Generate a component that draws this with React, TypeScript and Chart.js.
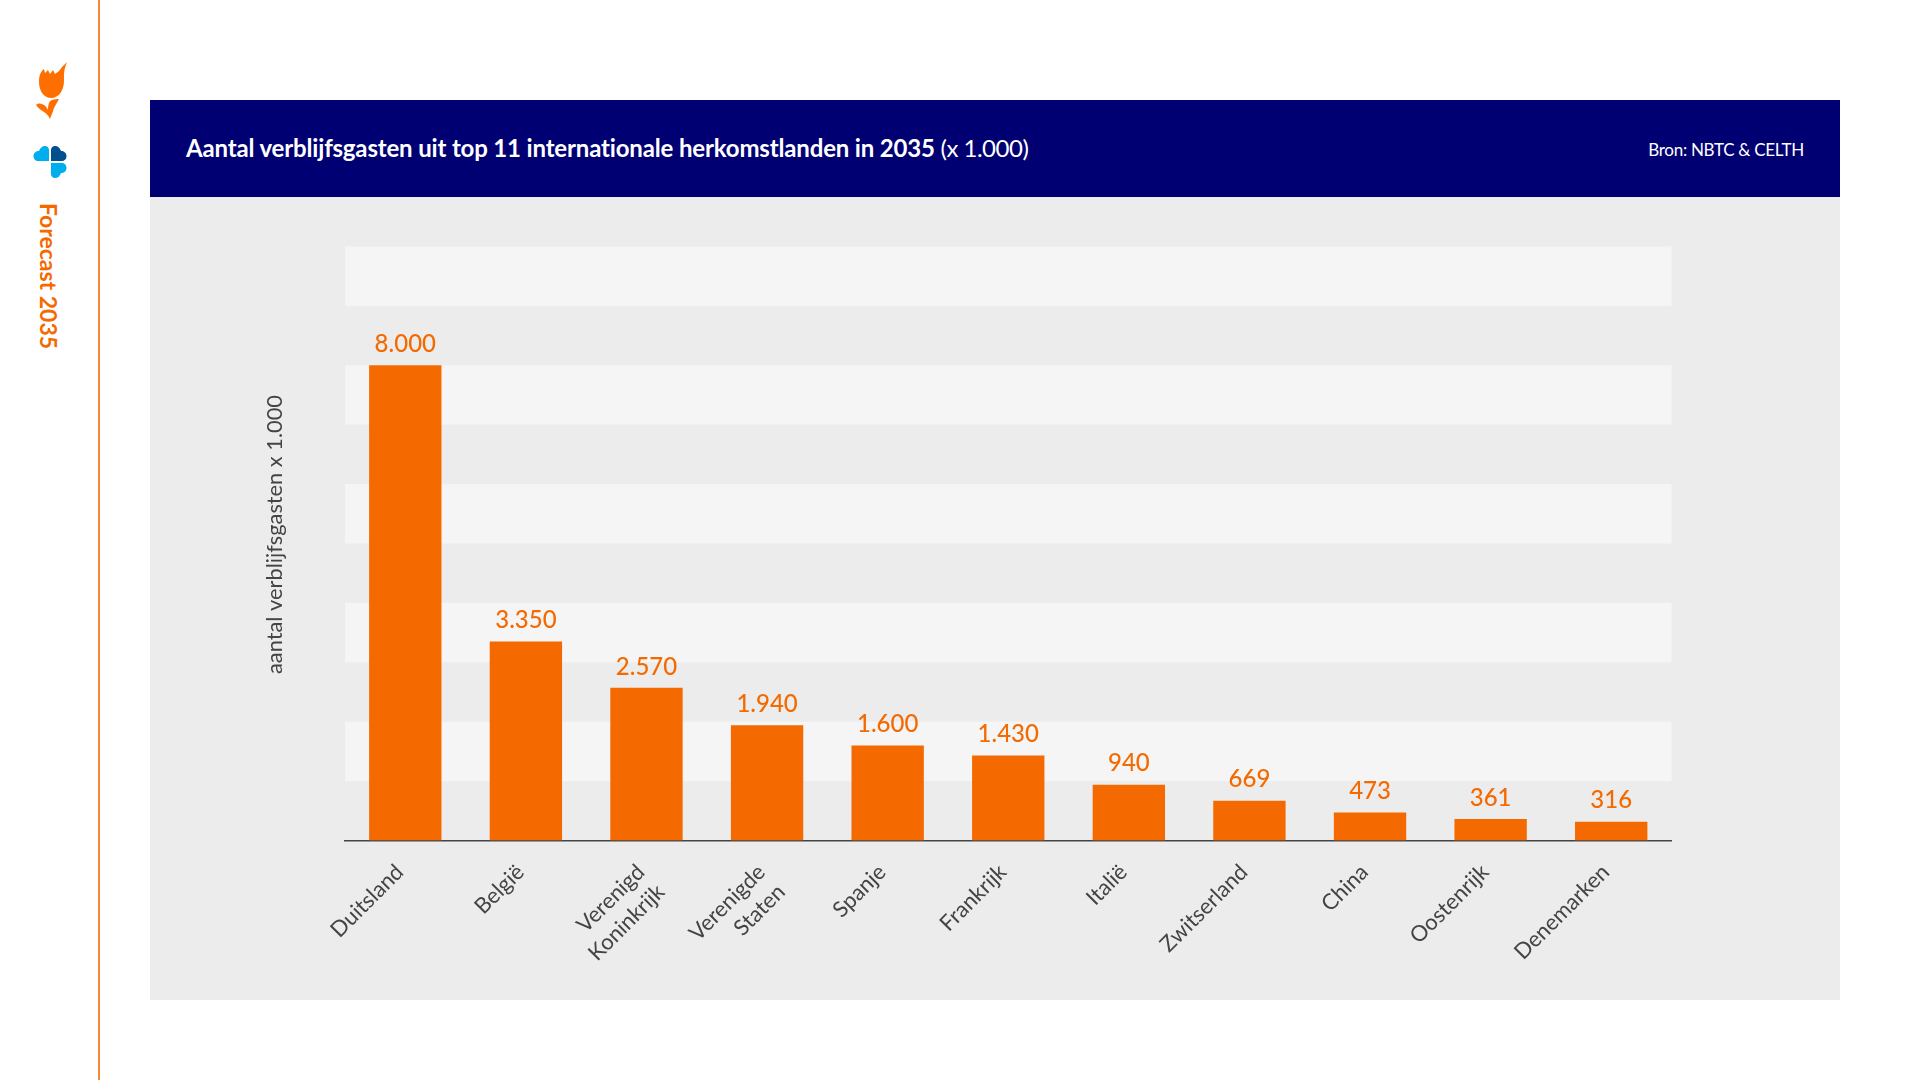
import React, { useEffect, useRef } from "react";
import { Chart, registerables } from "chart.js";

Chart.register(...registerables);

const categories: (string | string[])[] = [
  "Duitsland",
  "België",
  ["Verenigd", "Koninkrijk"],
  ["Verenigde", "Staten"],
  "Spanje",
  "Frankrijk",
  "Italië",
  "Zwitserland",
  "China",
  "Oostenrijk",
  "Denemarken",
];
const guests = [8000, 3350, 2570, 1940, 1600, 1430, 940, 669, 473, 361, 316];
const valueLabels = ["8.000", "3.350", "2.570", "1.940", "1.600", "1.430", "940", "669", "473", "361", "316"];
const bandStarts = [1000, 3000, 5000, 7000, 9000];
const bandSize = 1000;
const yMax = 10000;

const ORANGE = "#f46a00";
const FONT = "Lato, sans-serif";

const bandsPlugin = {
  id: "bands",
  beforeDatasetsDraw(chart: any) {
    const { ctx, chartArea, scales } = chart;
    ctx.save();
    ctx.fillStyle = "#f5f5f5";
    for (const s of bandStarts) {
      const top = scales.y.getPixelForValue(s + bandSize);
      const bottom = scales.y.getPixelForValue(s);
      ctx.fillRect(chartArea.left, top, chartArea.right - chartArea.left, bottom - top);
    }
    ctx.restore();
  },
};

const valueLabelPlugin = {
  id: "valueLabels",
  afterDatasetsDraw(chart: any) {
    const { ctx } = chart;
    const bars = chart.getDatasetMeta(0).data;
    ctx.save();
    ctx.fillStyle = ORANGE;
    ctx.font = `500 24px ${FONT}`;
    ctx.textAlign = "center";
    ctx.textBaseline = "middle";
    bars.forEach((bar: any, i: number) => {
      ctx.fillText(valueLabels[i], bar.x, bar.y - 21);
    });
    ctx.restore();
  },
};

function App() {
  const ref = useRef<HTMLCanvasElement>(null);
  useEffect(() => {
    const chart = new Chart(ref.current as HTMLCanvasElement, {
      type: "bar",
      data: {
        labels: categories as any,
        datasets: [
          {
            data: guests,
            backgroundColor: ORANGE,
            categoryPercentage: 0.6,
            barPercentage: 1,
          },
        ],
      },
      plugins: [bandsPlugin, valueLabelPlugin],
      options: {
        responsive: false,
        animation: false,
        devicePixelRatio: 1,
        layout: { padding: { left: 261, top: 246.5, right: 248.5, bottom: 0 } },
        plugins: { legend: { display: false }, tooltip: { enabled: false }, title: { display: false } },
        scales: {
          x: {
            grid: { display: false, drawTicks: false },
            border: { color: "#444444", width: 1.5 },
            ticks: {
              autoSkip: false,
              minRotation: 45,
              maxRotation: 45,
              padding: 18,
              labelOffset: -5.5,
              color: "#444444",
              font: { family: FONT, size: 22, weight: "400", lineHeight: 1.28 },
            },
            afterFit(scale: any) {
              scale.height = 239.5;
            },
          },
          y: {
            min: 0,
            max: yMax,
            grid: { display: false, drawTicks: false },
            border: { display: false },
            ticks: { display: false, stepSize: 1000 },
            title: {
              display: true,
              text: "aantal verblijfsgasten x 1.000",
              color: "#444444",
              padding: 0,
              font: { family: FONT, size: 21.8, weight: "400", lineHeight: 1.25 },
            },
            afterFit(scale: any) {
              scale.width = 84;
              if (!scale.__shifted) {
                scale.__shifted = true;
                const draw = scale.drawTitle;
                scale.drawTitle = function () {
                  this.ctx.save();
                  this.ctx.translate(0, -9);
                  draw.call(this);
                  this.ctx.restore();
                };
              }
            },
          },
        },
      },
    } as any);
    return () => chart.destroy();
  }, []);

  return (
    <div style={{ position: "fixed", left: 0, top: 0, width: 1920, height: 1080, background: "#fff", overflow: "hidden", fontFamily: FONT }}>
      <div style={{ position: "absolute", left: 98, top: 0, width: 1.5, height: 1080, background: "#f58a3c" }} />
      <svg style={{ position: "absolute", left: 0, top: 0 }} width={100} height={200}>
        <path fill="#ff6f00" d="M39 82 C39 75 41 71 44 69 L45 73 L48 70 L50 74 L53 70 L55 74 L59 71 L62 67 L67 62 C65 67 63.5 72 64 79 C64.5 90 59 98 51 98 C44 98 39 91 39 82 Z" />
        <path fill="#ff6f00" d="M36 105 C38 103 41 103 44 105 C46 106 47 108 48 110 C48 105 49 101 52 100 C55 99 57 99 59 99 C57 103 55 106 54 108 C53 112 51 116 50 119 C48 115 46 113 44 112 C41 110 38 108 36 105 Z" />
        <path fill="#00aeef" d="M49 161 H38 C35 161 33.5 158.5 33.5 156 C33.5 153 36 151 39 151 C40 148 42 146 45 146 C47.5 146 49 148 49 150 Z" />
        <path fill="#00508f" d="M51 161 H62 C65 161 66.5 158.5 66.5 156 C66.5 153 64 151 61 151 C60 148 58 146 55 146 C52.5 146 51 148 51 150 Z" />
        <path fill="#00aeef" d="M51 163 H62 C65 163 66.5 165.5 66.5 168 C66.5 171 64 173 61 173 C60 176 58 178 55 178 C52.5 178 51 176 51 174 Z" />
      </svg>
      <div style={{ position: "absolute", left: 49, top: 203, whiteSpace: "nowrap", color: "#f46a00", fontSize: 23, fontWeight: 700, lineHeight: "0px", transformOrigin: "0 0", transform: "rotate(90deg)" }}>
        Forecast 2035
      </div>
      <div style={{ position: "absolute", left: 150, top: 100, width: 1690, height: 97, background: "#000073" }} />
      <div style={{ position: "absolute", left: 150, top: 197, width: 1690, height: 803, background: "#ececec" }} />
      <div style={{ position: "absolute", left: 186, top: 148, lineHeight: "0px", whiteSpace: "nowrap", color: "#fff", fontSize: 24 }}>
        <span style={{ fontWeight: 700, letterSpacing: -0.16 }}>Aantal verblijfsgasten uit top 11 internationale herkomstlanden in 2035</span>
        <span style={{ fontWeight: 400, letterSpacing: -0.5 }}> (x 1.000)</span>
      </div>
      <div style={{ position: "absolute", right: 116, top: 150, lineHeight: "0px", whiteSpace: "nowrap", color: "#fff", fontSize: 17, letterSpacing: -0.3 }}>
        Bron: NBTC &amp; CELTH
      </div>
      <canvas ref={ref} width={1920} height={1080} style={{ position: "absolute", left: 0, top: 0, display: "block" }} />
    </div>
  );
}

export default App;
